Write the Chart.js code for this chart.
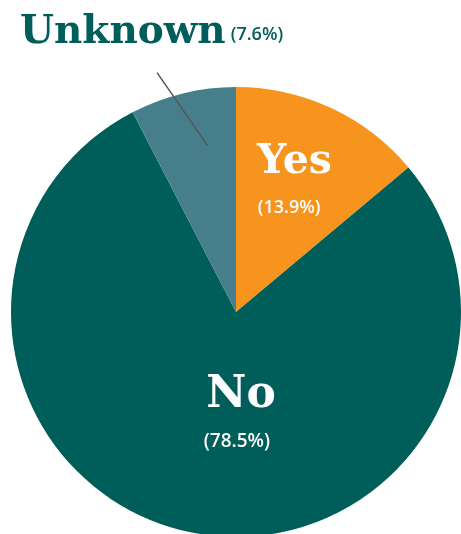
<!DOCTYPE html>
<html>
<head>
<meta charset="utf-8">
<script src="https://cdn.jsdelivr.net/npm/chart.js@4/dist/chart.umd.min.js"></script>
<style>
html,body{margin:0;padding:0;background:#fff;overflow:hidden;width:461px;height:534px;}
#wrap{position:absolute;left:0;top:0;width:461px;height:540px;}
</style>
</head>
<body>
<div id="wrap"><canvas id="c"></canvas></div>
<script>
const categories = ["Yes", "No", "Unknown"];
const values = [13.9, 78.5, 7.6];
const percentLabels = ["(13.9%)", "(78.5%)", "(7.6%)"];
const colors = ["#F7941D", "#005E5A", "#467F8B"];

const labelPlugin = {
  id: 'labels',
  afterDatasetsDraw(chart) {
    const ctx = chart.ctx;
    const meta = chart.getDatasetMeta(0);
    const arcs = meta.data;
    const cx = arcs[0].x, cy = arcs[0].y, r = arcs[0].outerRadius;
    const serif = '"DejaVu Serif", serif';
    const sans = '"Open Sans", sans-serif';
    ctx.save();
    ctx.textAlign = 'center';
    ctx.textBaseline = 'alphabetic';
    // Yes
    ctx.fillStyle = '#fff';
    ctx.font = 'bold 41px ' + serif;
    ctx.fillText(categories[0], cx + 0.26 * r, cy - 0.618 * r);
    ctx.font = '600 18px ' + sans;
    ctx.fillText(percentLabels[0], cx + 0.236 * r, cy - 0.438 * r);
    // No
    ctx.font = 'bold 44px ' + serif;
    ctx.fillText(categories[1], cx + 0.022 * r, cy + 0.42 * r);
    ctx.font = '600 19px ' + sans;
    ctx.fillText(percentLabels[1], cx + 0.004 * r, cy + 0.6 * r);
    // Unknown leader line
    const a = arcs[2];
    const mid = (a.startAngle + a.endAngle) / 2;
    const p1a = mid + 0.07, p2a = mid - 0.08;
    ctx.strokeStyle = '#555';
    ctx.lineWidth = 1.5;
    ctx.beginPath();
    ctx.moveTo(cx + Math.cos(p1a) * 0.75 * r, cy + Math.sin(p1a) * 0.75 * r);
    ctx.lineTo(cx + Math.cos(p2a) * 1.12 * r, cy + Math.sin(p2a) * 1.12 * r);
    ctx.stroke();
    // Unknown label
    ctx.fillStyle = '#005E5A';
    ctx.textAlign = 'left';
    ctx.font = 'bold 39px ' + serif;
    ctx.fillText(categories[2], 20, 43);
    const w = ctx.measureText(categories[2]).width;
    ctx.font = '600 18px ' + sans;
    ctx.fillText(percentLabels[2], 20 + w + 5, 40);
    ctx.restore();
  }
};

new Chart(document.getElementById('c'), {
  type: 'pie',
  data: {
    labels: categories,
    datasets: [{
      data: values,
      backgroundColor: colors,
      borderWidth: 0,
      hoverOffset: 0
    }]
  },
  options: {
    responsive: true,
    maintainAspectRatio: false,
    animation: false,
    layout: { padding: { left: 11, top: 87, right: 0, bottom: 3 } },
    plugins: { legend: { display: false }, tooltip: { enabled: false } }
  },
  plugins: [labelPlugin]
});
</script>
</body>
</html>
